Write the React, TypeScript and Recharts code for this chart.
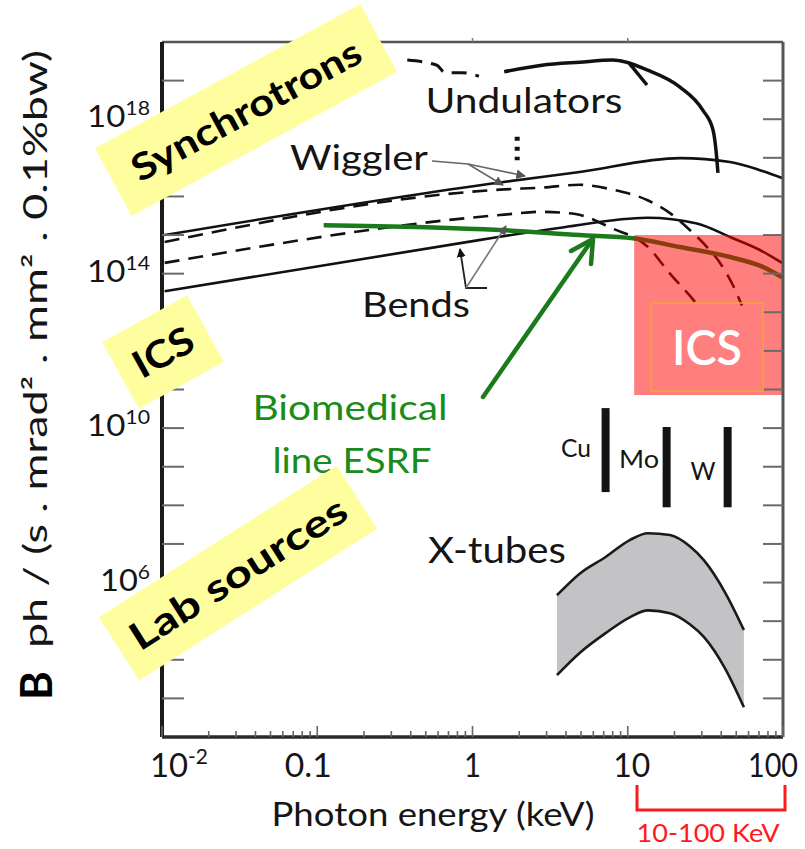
import React from 'react';
import { ComposedChart, Line, Area, XAxis, YAxis, ReferenceArea } from 'recharts';

const W = 805;
const H = 849;
const PLOT = { left: 162, right: 783, top: 42, bottom: 737 };
const FONT = 'Lato, "Open Sans", "DejaVu Sans", sans-serif';

// photon energy (keV) against brilliance B (ph / (s . mrad2 . mm2 . 0.1% bw))
const undulatorDashed = [
  { e: 0.38, b: 3.4e19 },
  { e: 0.59, b: 2.5e19 },
  { e: 0.665, b: 1.6e19 },
  { e: 0.855, b: 1.6e19 },
  { e: 1.1, b: 1.3e19 },
];
const undulatorSolid = [
  { e: 1.6, b: 1.7e19 },
  { e: 2.8, b: 2.5e19 },
  { e: 4.9, b: 3.0e19 },
  { e: 8.0, b: 3.4e19 },
  { e: 13.3, b: 1.9e19 },
  { e: 21.7, b: 6.8e18 },
  { e: 30.5, b: 1.7e18 },
  { e: 35.4, b: 5.3e17 },
  { e: 37.0, b: 1.6e17 },
  { e: 38.1, b: 4.1e16 },
];
const undulatorKink = [
  { e: 10.3, b: 2.7e19 },
  { e: 13.3, b: 7.7e18 },
];
const undulatorDotted = [
  { e: 1.94, b: 3.5e17 },
  { e: 1.94, b: 8.7e16 },
];
const wigglerSolid = [
  { e: 0.0104, b: 1.0e15 },
  { e: 1.5, b: 2.3e16 },
  { e: 4.9, b: 4.3e16 },
  { e: 21.7, b: 9.8e16 },
  { e: 45.6, b: 7.8e16 },
  { e: 71, b: 4.8e16 },
  { e: 98.6, b: 3.0e16 },
];
const wigglerDashed = [
  { e: 0.0104, b: 6.6e14 },
  { e: 1.5, b: 1.5e16 },
  { e: 2.8, b: 1.7e16 },
  { e: 4.9, b: 2.0e16 },
  { e: 8.0, b: 1.5e16 },
  { e: 13.3, b: 8.1e15 },
  { e: 18.7, b: 3.7e15 },
  { e: 25.1, b: 1.35e15 },
  { e: 32.4, b: 4.9e14 },
  { e: 39.3, b: 1.9e14 },
  { e: 47.6, b: 5.0e13 },
  { e: 54.4, b: 1.5e13 },
];
const bendDashed = [
  { e: 0.0104, b: 1.9e14 },
  { e: 1.5, b: 3.3e15 },
  { e: 2.8, b: 4.0e15 },
  { e: 4.6, b: 3.5e15 },
  { e: 7.9, b: 1.5e15 },
  { e: 13.5, b: 4.9e14 },
  { e: 18.7, b: 1.0e14 },
  { e: 25.5, b: 2.5e13 },
  { e: 29.2, b: 1.3e13 },
];
const bendSolid = [
  { e: 0.0104, b: 3.5e13 },
  { e: 1.1, b: 7.4e14 },
  { e: 2.05, b: 1.1e15 },
  { e: 3.9, b: 1.6e15 },
  { e: 13.3, b: 2.8e15 },
  { e: 27.9, b: 2.0e15 },
  { e: 45.6, b: 8.9e14 },
  { e: 71, b: 4.1e14 },
  { e: 98.6, b: 1.9e14 },
];
const esrfBiomedical = [
  { e: 0.11, b: 1.8e15 },
  { e: 1.5, b: 1.35e15 },
  { e: 4.9, b: 1.0e15 },
  { e: 10.8, b: 8.3e14 },
  { e: 21.7, b: 4.9e14 },
  { e: 45.6, b: 2.7e14 },
  { e: 74, b: 1.5e14 },
  { e: 98.6, b: 8.1e13 },
];

// X-ray tubes band
const xTubeEnergy = [3.5, 4.9, 7.2, 10.3, 13.5, 18.7, 25.1, 30.9, 42.3, 56];
const xTubeUpper = [4.7e5, 1.7e6, 4.6e6, 1.26e7, 1.9e7, 1.7e7, 8.7e6, 3.8e6, 5.6e5, 5.9e4];
const xTubeLower = [4.0e3, 1.5e4, 4.9e4, 1.26e5, 1.9e5, 1.6e5, 8.3e4, 3.9e4, 6.0e3, 5.9e2];

// anode lines
const anodeNames = ['Cu', 'Mo', 'W'];
const anodeEnergy = [7.2, 17.8, 44];
const anodeTop = [3.3e10, 1.07e10, 1.07e10];
const anodeBottom = [2.2e8, 8.9e7, 8.9e7];

// ICS window
const icsRange = { eMin: 11, eMax: 100, bMin: 7.2e10, bMax: 1e15 };

// axes
const X_DECADES = [0.01, 0.1, 1, 10, 100];
const X_TICK_LABELS = ['10^-2', '0.1', '1', '10', '100'];
const X_MINOR = [1, 2, 3, 4, 5, 6, 7, 8, 9];
const X_TICKS = X_DECADES.slice(0, 4)
  .flatMap((d) => X_MINOR.map((k) => +(k * d).toPrecision(3)))
  .concat([100]);
const Y_TICKS = [1e3, 1e4, 1e5, 1e6, 1e7, 1e8, 1e9, 1e10, 1e11, 1e12, 1e13, 1e14, 1e15, 1e16, 1e17, 1e18, 1e19];
const Y_LABELLED_EXP = [6, 10, 14, 18];

const xTubeTop = xTubeEnergy.map((e, i) => ({ e, b: xTubeUpper[i] }));
const xTubeBottom = xTubeEnergy.map((e, i) => ({ e, b: xTubeLower[i] }));
const xTubeBand = xTubeEnergy.map((e, i) => ({ e, band: [xTubeLower[i], xTubeUpper[i]] }));
const anodeBars = anodeNames.map((n, i) => [
  { e: anodeEnergy[i], b: anodeTop[i] },
  { e: anodeEnergy[i], b: anodeBottom[i] },
]);

// the source figure is a little stretched sideways, so texts get explicit widths
const labelNudge = [17, -9, 0, 4, -10];
const labelWidth = [58, 47, 17, 37, 50];

function XTick(props: any) {
  const { x, payload } = props;
  const v = payload.value;
  const idx = X_DECADES.findIndex((d) => Math.abs(d - v) / d < 1e-6);
  const major = idx >= 0;
  const label = major ? X_TICK_LABELS[idx] : null;
  const [base, sup] = label ? label.split('^') : [null, null];
  return (
    <g>
      <line x1={x} x2={x} y1={PLOT.bottom} y2={PLOT.bottom - (major ? 11 : 6)} stroke="#666" strokeWidth={1.6} />
      {label && (
        <text
          x={x + labelNudge[idx]}
          y={777}
          textAnchor="middle"
          fontFamily={FONT}
          fontSize={33}
          fill="#151515"
          textLength={labelWidth[idx]}
          lengthAdjust="spacingAndGlyphs"
        >
          {base}
          {sup && (
            <tspan fontSize={21} dy={-13}>
              {sup}
            </tspan>
          )}
        </text>
      )}
    </g>
  );
}

function TopTick(props: any) {
  const { x } = props;
  return <line x1={x} x2={x} y1={PLOT.top} y2={PLOT.top - 4} stroke="#777" strokeWidth={1.5} />;
}

function LeftTick(props: any) {
  const { y, payload } = props;
  const exp = Math.round(Math.log10(payload.value));
  return (
    <g>
      <line x1={PLOT.left} x2={PLOT.left + 22} y1={y} y2={y} stroke="#6a6a6a" strokeWidth={2} />
      {Y_LABELLED_EXP.includes(exp) && (
        <text
          x={150}
          y={y + 8}
          textAnchor="end"
          fontFamily={FONT}
          fontSize={31}
          fill="#151515"
          textLength={exp < 10 ? 50 : 63}
          lengthAdjust="spacingAndGlyphs"
        >
          10
          <tspan fontSize={20} dy={-12}>
            {exp}
          </tspan>
        </text>
      )}
    </g>
  );
}

function RightTick(props: any) {
  const { y } = props;
  return <line x1={PLOT.right - 20} x2={PLOT.right} y1={y} y2={y} stroke="#6a6a6a" strokeWidth={2} />;
}

function Sticky({ cx, cy, w, h, angle, text, size, len }: any) {
  return (
    <g transform={`translate(${cx},${cy}) rotate(${angle})`}>
      <rect x={-w / 2} y={-h / 2} width={w} height={h} fill="#fefe9e" />
      <text
        x={0}
        y={size * 0.36}
        textAnchor="middle"
        fontWeight={700}
        fontSize={size}
        fill="#000"
        textLength={len}
        lengthAdjust="spacingAndGlyphs"
      >
        {text}
      </text>
    </g>
  );
}

function Label({ x, y, size, len, fill = '#151515', weight = 400, children }: any) {
  return (
    <text
      x={x}
      y={y}
      textAnchor="middle"
      fontSize={size}
      fontWeight={weight}
      fill={fill}
      textLength={len}
      lengthAdjust="spacingAndGlyphs"
    >
      {children}
    </text>
  );
}

const lineCommon = { dot: false, activeDot: false, isAnimationActive: false, type: 'monotone' as const };

export default function App() {
  return (
    <div style={{ position: 'absolute', left: 0, top: 0, width: W, height: H, background: '#fff' }}>
      <ComposedChart
        width={W}
        height={H}
        margin={{ top: PLOT.top - 1, right: W - PLOT.right - 1, bottom: H - PLOT.bottom - 1, left: PLOT.left - 1 }}
      >
        <XAxis
          dataKey="e"
          type="number"
          scale="log"
          domain={[0.01, 100]}
          allowDataOverflow
          ticks={X_TICKS}
          interval={0}
          height={1}
          tickLine={false}
          tick={XTick}
          axisLine={{ stroke: '#2a2a2a', strokeWidth: 3.5 }}
        />
        <XAxis
          xAxisId="top"
          orientation="top"
          dataKey="e"
          type="number"
          scale="log"
          domain={[0.01, 100]}
          allowDataOverflow
          ticks={[0.1, 1, 10]}
          interval={0}
          height={1}
          tickLine={false}
          tick={TopTick}
          axisLine={{ stroke: '#555', strokeWidth: 2.5 }}
        />
        <YAxis
          type="number"
          scale="log"
          domain={[1e2, 1e20]}
          allowDataOverflow
          ticks={Y_TICKS}
          interval={0}
          width={1}
          tickLine={false}
          tick={LeftTick}
          axisLine={{ stroke: '#1a1a1a', strokeWidth: 4 }}
        />
        <YAxis
          yAxisId="r"
          orientation="right"
          type="number"
          scale="log"
          domain={[1e2, 1e20]}
          allowDataOverflow
          ticks={Y_TICKS}
          interval={0}
          width={1}
          tickLine={false}
          tick={RightTick}
          axisLine={{ stroke: '#555', strokeWidth: 3 }}
        />

        <Area
          data={xTubeBand}
          dataKey="band"
          type="monotone"
          fill="#c3c3c5"
          fillOpacity={1}
          stroke="none"
          dot={false}
          activeDot={false}
          isAnimationActive={false}
        />
        <Line {...lineCommon} data={xTubeTop} dataKey="b" stroke="#1a1a1a" strokeWidth={2.6} />
        <Line {...lineCommon} data={xTubeBottom} dataKey="b" stroke="#1a1a1a" strokeWidth={2.6} />

        <Line {...lineCommon} data={undulatorDashed} dataKey="b" stroke="#111" strokeWidth={3} strokeDasharray="15 9" />
        <Line {...lineCommon} data={undulatorSolid} dataKey="b" stroke="#111" strokeWidth={3.5} />
        <Line {...lineCommon} type="linear" data={undulatorKink} dataKey="b" stroke="#111" strokeWidth={3.5} />
        <Line
          {...lineCommon}
          type="linear"
          data={undulatorDotted}
          dataKey="b"
          stroke="#111"
          strokeWidth={5}
          strokeDasharray="4 6"
        />
        <Line {...lineCommon} data={wigglerSolid} dataKey="b" stroke="#111" strokeWidth={2.6} />
        <Line {...lineCommon} data={wigglerDashed} dataKey="b" stroke="#111" strokeWidth={2.6} strokeDasharray="15 9" />
        <Line {...lineCommon} data={bendDashed} dataKey="b" stroke="#111" strokeWidth={2.6} strokeDasharray="15 9" />
        <Line {...lineCommon} data={bendSolid} dataKey="b" stroke="#111" strokeWidth={2.6} />
        <Line {...lineCommon} data={esrfBiomedical} dataKey="b" stroke="#1b7a1b" strokeWidth={4.5} />

        {anodeBars.map((bar, i) => (
          <Line
            key={anodeNames[i]}
            {...lineCommon}
            type="linear"
            data={bar}
            dataKey="b"
            stroke="#141414"
            strokeWidth={8}
          />
        ))}

        <ReferenceArea
          x1={icsRange.eMin}
          x2={icsRange.eMax}
          y1={icsRange.bMin}
          y2={icsRange.bMax}
          fill="#ff0000"
          fillOpacity={0.5}
          stroke="none"
          ifOverflow="visible"
          zIndex={450}
        />
      </ComposedChart>

      <svg
        width={W}
        height={H}
        style={{ position: 'absolute', left: 0, top: 0, pointerEvents: 'none' }}
        fontFamily={FONT}
      >
        <defs>
          <marker id="greyHead" viewBox="0 0 10 10" refX="9" refY="5" markerWidth="6" markerHeight="6" orient="auto">
            <path d="M0,0 L10,5 L0,10 z" fill="#555" />
          </marker>
          <marker id="blackHead" viewBox="0 0 10 10" refX="9" refY="5" markerWidth="5" markerHeight="6" orient="auto">
            <path d="M0,0 L10,5 L0,10 z" fill="#111" />
          </marker>
        </defs>

        {/* curve labels */}
        <Label x={524} y={113} size={34} len={197}>Undulators</Label>
        <Label x={359} y={170} size={34} len={138}>Wiggler</Label>
        <Label x={416} y={317} size={34} len={108}>Bends</Label>
        <Label x={497} y={563} size={37} len={138}>X-tubes</Label>

        {/* pointers */}
        <path d="M432,161 L468,164 L503,185" fill="none" stroke="#666" strokeWidth={1.6} markerEnd="url(#greyHead)" />
        <path d="M468,164 L525,176" fill="none" stroke="#666" strokeWidth={1.6} markerEnd="url(#greyHead)" />
        <path d="M487,288 L466,288 L460,249" fill="none" stroke="#222" strokeWidth={1.8} markerEnd="url(#blackHead)" />
        <path d="M466,288 L506,226" fill="none" stroke="#777" strokeWidth={1.6} markerEnd="url(#greyHead)" />

        {/* ESRF arrow and label */}
        <path d="M483,397 L592,240" stroke="#1b7a1b" strokeWidth={4.5} strokeLinecap="round" />
        <path d="M571,251 L593,239 L591,264" fill="none" stroke="#1b7a1b" strokeWidth={4.5} strokeLinecap="round" strokeLinejoin="round" />
        <Label x={350} y={420} size={35} len={195} fill="#198c19">Biomedical</Label>
        <Label x={352} y={473} size={35} len={159} fill="#198c19">line ESRF</Label>

        {/* anode names */}
        <Label x={576} y={457} size={25} len={30}>{anodeNames[0]}</Label>
        <Label x={639} y={468} size={25} len={40}>{anodeNames[1]}</Label>
        <Label x={703} y={480} size={25} len={25}>{anodeNames[2]}</Label>

        {/* ICS tag inside the red window */}
        <rect x={651} y={303} width={112} height={88} fill="none" stroke="#f4a23c" strokeWidth={1.5} />
        <Label x={707} y={365} size={48} len={70} fill="#fff" weight={600}>ICS</Label>

        {/* 10-100 keV bracket */}
        <path d="M637,785 L637,810 L785,810 L785,785" fill="none" stroke="#ff1a1a" strokeWidth={3} />
        <Label x={708} y={842} size={25} len={143} fill="#ff1a1a">10-100 KeV</Label>

        {/* axis titles */}
        <Label x={433} y={826} size={32} len={323}>Photon energy (keV)</Label>
        <text
          x={52}
          y={700}
          transform="rotate(-90 52 700)"
          fontSize={44}
          fontWeight={700}
          fill="#000"
        >
          B
        </text>
        <text
          x={47}
          y={648}
          transform="rotate(-90 47 648)"
          fontSize={32}
          fill="#151515"
          textLength={598}
          lengthAdjust="spacingAndGlyphs"
        >
          ph / (s . mrad² . mm² . 0.1%bw)
        </text>

        {/* yellow sticky notes */}
        <Sticky cx={246} cy={110} w={302} h={77} angle={-28.5} text="Synchrotrons" size={37} len={256} />
        <Sticky cx={163} cy={352} w={97} h={76} angle={-29} text="ICS" size={38} len={64} />
        <Sticky cx={238} cy={573} w={282} h={75} angle={-32.5} text="Lab sources" size={38} len={250} />
      </svg>
    </div>
  );
}
